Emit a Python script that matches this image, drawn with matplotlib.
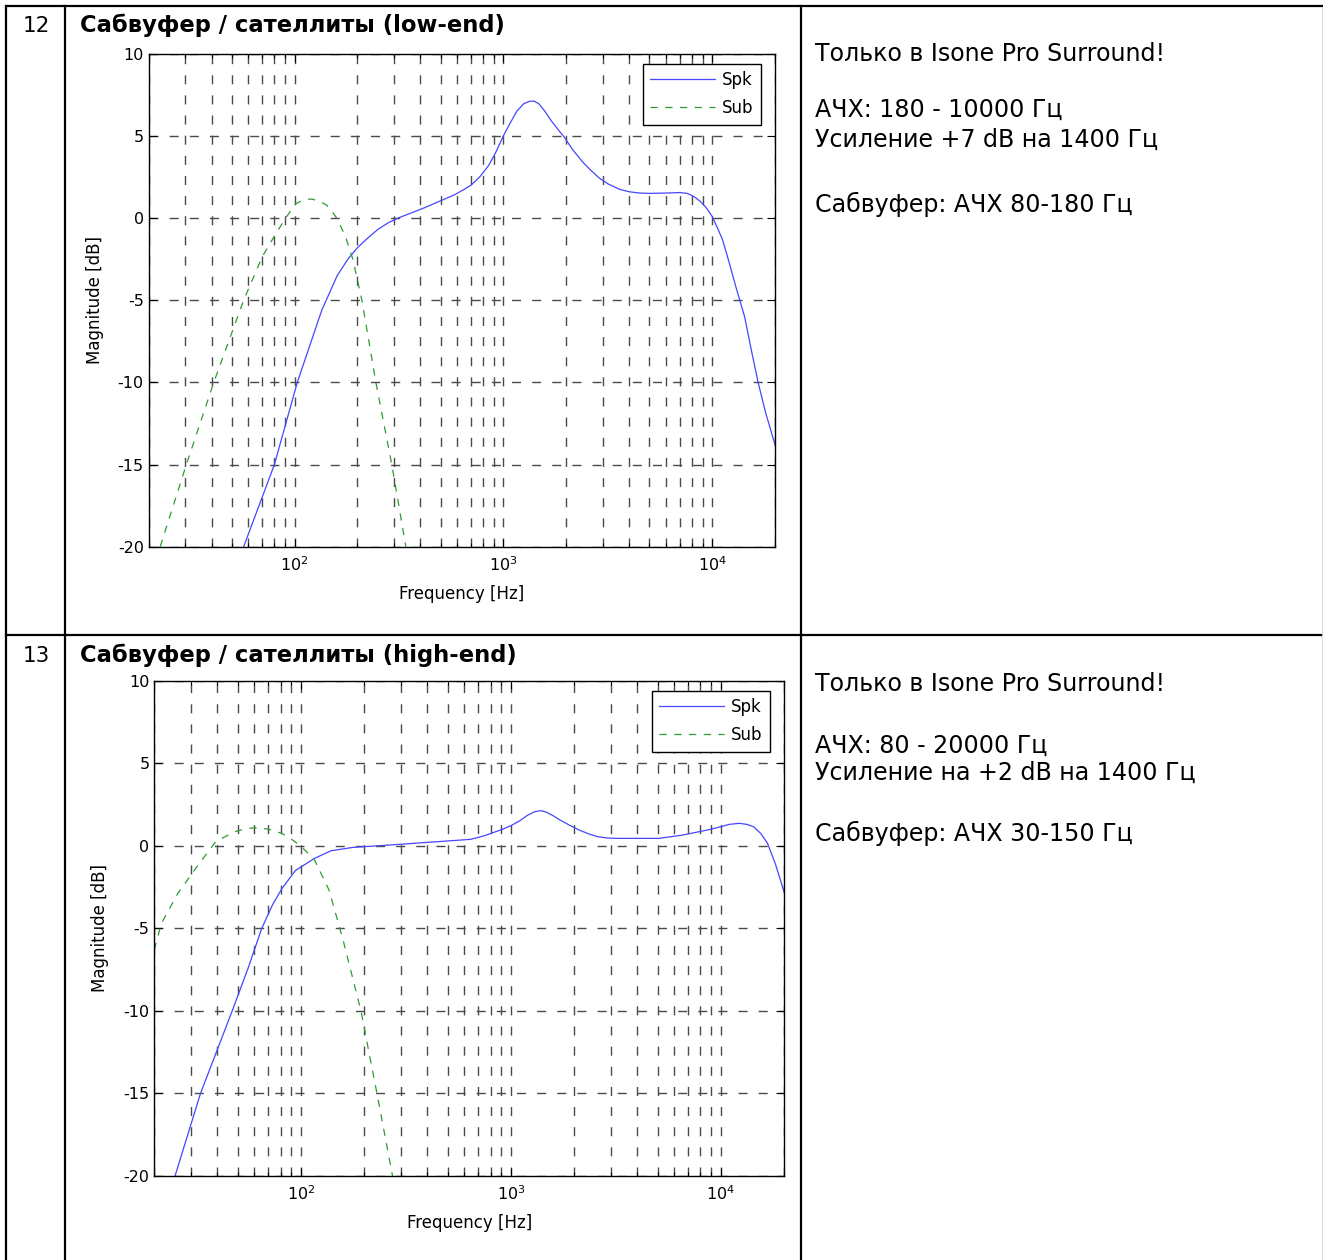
import matplotlib
matplotlib.use('Agg')
import matplotlib.pyplot as plt
from matplotlib.ticker import FixedLocator, FixedFormatter, NullFormatter

plt.rcParams['font.family'] = ['DejaVu Sans']
plt.rcParams['mathtext.default'] = 'regular'

# ---------------- data ----------------
row_numbers = ['12', '13']
titles = ['Сабвуфер / сателлиты (low-end)', 'Сабвуфер / сателлиты (high-end)']
notes_top = ['Только в Isone Pro Surround!', 'АЧХ: 180 - 10000 Гц',
             'Усиление +7 dB на 1400 Гц', 'Сабвуфер: АЧХ 80-180 Гц']
notes_bottom = ['Только в Isone Pro Surround!', 'АЧХ: 80 - 20000 Гц',
                'Усиление на +2 dB на 1400 Гц', 'Сабвуфер: АЧХ 30-150 Гц']

series_names = ['Spk', 'Sub']
xtick_values = [100, 1000, 10000]
xtick_labels = ['$10^{2}$', '$10^{3}$', '$10^{4}$']
ytick_values = [-20, -15, -10, -5, 0, 5, 10]
ytick_labels = ['-20', '-15', '-10', '-5', '0', '5', '10']
x_label = 'Frequency [Hz]'
y_label = 'Magnitude [dB]'

# chart 12 (low-end)
low_spk_freq = [57, 80, 103, 135, 160, 180, 200, 225, 250, 280, 313, 360, 414, 490, 580,
                650, 700, 770, 850, 920, 1000, 1080, 1160, 1250, 1330, 1400, 1480,
                1580, 1700, 1850, 1950, 2150, 2400, 2650, 2900, 3200, 3600, 4000, 4500,
                5000, 6000, 7000, 7600, 8200, 8800, 9400, 10000, 10600, 11200, 12000,
                13000, 14300, 15500, 16600, 18000, 20000]
low_spk_db = [-20, -15, -10, -5.6, -3.5, -2.5, -1.8, -1.2, -0.7, -0.3, 0.0, 0.3, 0.6, 1.0,
              1.4, 1.75, 2.0, 2.5, 3.2, 4.0, 5.0, 5.8, 6.5, 6.95, 7.1, 7.12, 6.95,
              6.5, 5.9, 5.3, 4.95, 4.15, 3.4, 2.85, 2.4, 2.05, 1.75, 1.6, 1.52,
              1.5, 1.52, 1.55, 1.5, 1.3, 1.0, 0.6, 0.1, -0.6, -1.3, -2.6,
              -4.2, -6.0, -8.2, -10.0, -11.8, -13.8]
low_sub_freq = [22.7, 30.3, 41, 57, 70, 80, 90.6, 101, 110, 120, 130, 142, 150, 159,
                175, 190, 210, 245, 292, 341]
low_sub_db = [-20, -15, -10, -5, -2.35, -1.1, 0.0, 0.86, 1.1, 1.16, 1.05, 0.8, 0.45, 0.0,
              -1.1, -2.5, -5, -10, -15, -20]

# chart 13 (high-end)
high_spk_freq = [25.1, 33.2, 47, 56, 65, 73, 81, 94, 116, 139, 176, 266, 447, 641,
                 748, 920, 1010, 1104, 1200, 1300, 1393, 1480, 1600, 1714, 1900, 2109,
                 2350, 2592, 2900, 3187, 5074, 6571, 8970, 11000, 12240, 13300, 14300,
                 15500, 16690, 18200, 20000]
high_spk_db = [-20, -15, -10, -7.4, -5, -3.6, -2.6, -1.5, -0.76, -0.3, -0.1, 0.05, 0.25,
               0.39, 0.61, 1.02, 1.25, 1.52, 1.85, 2.07, 2.13, 2.03, 1.8, 1.56, 1.25,
               0.96, 0.72, 0.55, 0.47, 0.45, 0.45, 0.65, 1.0, 1.3, 1.36, 1.3, 1.16,
               0.75, 0.15, -1.1, -2.78]
high_sub_freq = [20, 21.6, 25.9, 31.9, 39.2, 48.2, 55, 62.4, 70, 80.8, 90, 99.6, 116, 136,
                 158.6, 193, 230, 273]
high_sub_db = [-6.3, -4.7, -2.88, -1.27, 0.25, 0.85, 1.05, 1.1, 1.0, 0.76, 0.4, 0.0,
               -0.86, -2.68, -5.7, -10, -15, -20]

# ---------------- figure ----------------
W, H = 1323, 1260
fig = plt.figure(figsize=(W / 100, H / 100), dpi=100)
bg = fig.add_axes([0, 0, 1, 1], zorder=0)
bg.set_xlim(0, W)
bg.set_ylim(H, 0)
bg.axis('off')

lw_tab = 1.6
line_kw = dict(color='black', lw=lw_tab, solid_capstyle='projecting')
bg.plot([6, W], [5.7, 5.7], **line_kw)
bg.plot([6, 6], [5.7, H], **line_kw)
bg.plot([64.7, 64.7], [5.7, H], **line_kw)
bg.plot([800.7, 800.7], [5.7, H], **line_kw)
bg.plot([6, W], [634.5, 634.5], **line_kw)
bg.plot([1321.5, 1321.5], [7, H], color='#d4d4d4', lw=0.6)

# texts in table
num_baselines = [31.7, 661.7]
for num, title, yb in zip(row_numbers, titles, num_baselines):
    bg.text(36, yb, num, fontsize=15.5, ha='center', va='baseline')
    bg.text(80, yb, title, fontsize=16.3, fontweight='bold', ha='left', va='baseline')

top_note_baselines = [61, 116.7, 146.7, 212.3]
bottom_note_baselines = [690.7, 752.7, 779.3, 840.5]
for txt, yb in zip(notes_top, top_note_baselines):
    bg.text(815, yb, txt, fontsize=17.1, ha='left', va='baseline')
for txt, yb in zip(notes_bottom, bottom_note_baselines):
    bg.text(815, yb, txt, fontsize=17.1, ha='left', va='baseline')

SPK_COLOR = '#4646ff'
SUB_COLOR = '#2f9a2f'
GRID_COLOR = '#4a4a4a'


def draw_chart(l, t, r, b, spk_f, spk_db, sub_f, sub_db):
    ax = fig.add_axes([l / W, 1 - b / H, (r - l) / W, (b - t) / H], zorder=2)
    wpx, hpx = r - l, b - t
    ax.set_xscale('log')
    ax.set_xlim(20, 20000)
    ax.set_ylim(-20, 10)
    ax.set_axisbelow(True)
    ax.plot(spk_f, spk_db, color=SPK_COLOR, lw=0.9, label=series_names[0])
    ax.plot(sub_f, sub_db, color=SUB_COLOR, lw=0.9, ls=(0, (5.8, 6.0)),
            label=series_names[1])

    ax.xaxis.set_major_locator(FixedLocator(xtick_values))
    ax.xaxis.set_major_formatter(FixedFormatter(xtick_labels))
    minors = [m * d for d in (10, 100, 1000, 10000) for m in range(2, 10)
              if 20 <= m * d <= 20000]
    ax.xaxis.set_minor_locator(FixedLocator(minors))
    ax.xaxis.set_minor_formatter(NullFormatter())
    ax.yaxis.set_major_locator(FixedLocator(ytick_values))
    ax.yaxis.set_major_formatter(FixedFormatter(ytick_labels))

    grid_kw = dict(color=GRID_COLOR, lw=1.0, ls=(0, (6.5, 8.0)))
    ax.grid(True, which='major', axis='both', **grid_kw)
    ax.grid(True, which='minor', axis='x', **grid_kw)

    ax.tick_params(which='both', direction='in', top=True, right=True,
                   labelsize=11.5, width=0.8)
    ax.tick_params(which='major', length=6)
    ax.tick_params(which='minor', length=3)
    ax.tick_params(axis='y', pad=3.5)
    ax.tick_params(axis='x', pad=6)
    for s in ax.spines.values():
        s.set_linewidth(1.0)

    ax.text(0.5, -47 / hpx, x_label, transform=ax.transAxes, ha='center',
            va='center', fontsize=12)
    ax.text(-54 / wpx, 0.5, y_label, transform=ax.transAxes, ha='center',
            va='center', rotation=90, fontsize=12)

    leg = ax.legend(loc='upper right', bbox_to_anchor=(1 - 14 / wpx, 1 - 10 / hpx),
                    borderaxespad=0, fancybox=False, edgecolor='black',
                    framealpha=1, fontsize=12, handlelength=3.9,
                    handletextpad=0.4, borderpad=0.45, labelspacing=0.6)
    leg.get_frame().set_linewidth(1.0)
    return ax


draw_chart(148.7, 53.7, 775, 546.7, low_spk_freq, low_spk_db, low_sub_freq, low_sub_db)
draw_chart(154.3, 680.7, 784, 1176, high_spk_freq, high_spk_db, high_sub_freq, high_sub_db)

fig.savefig('out.png', dpi=100)
